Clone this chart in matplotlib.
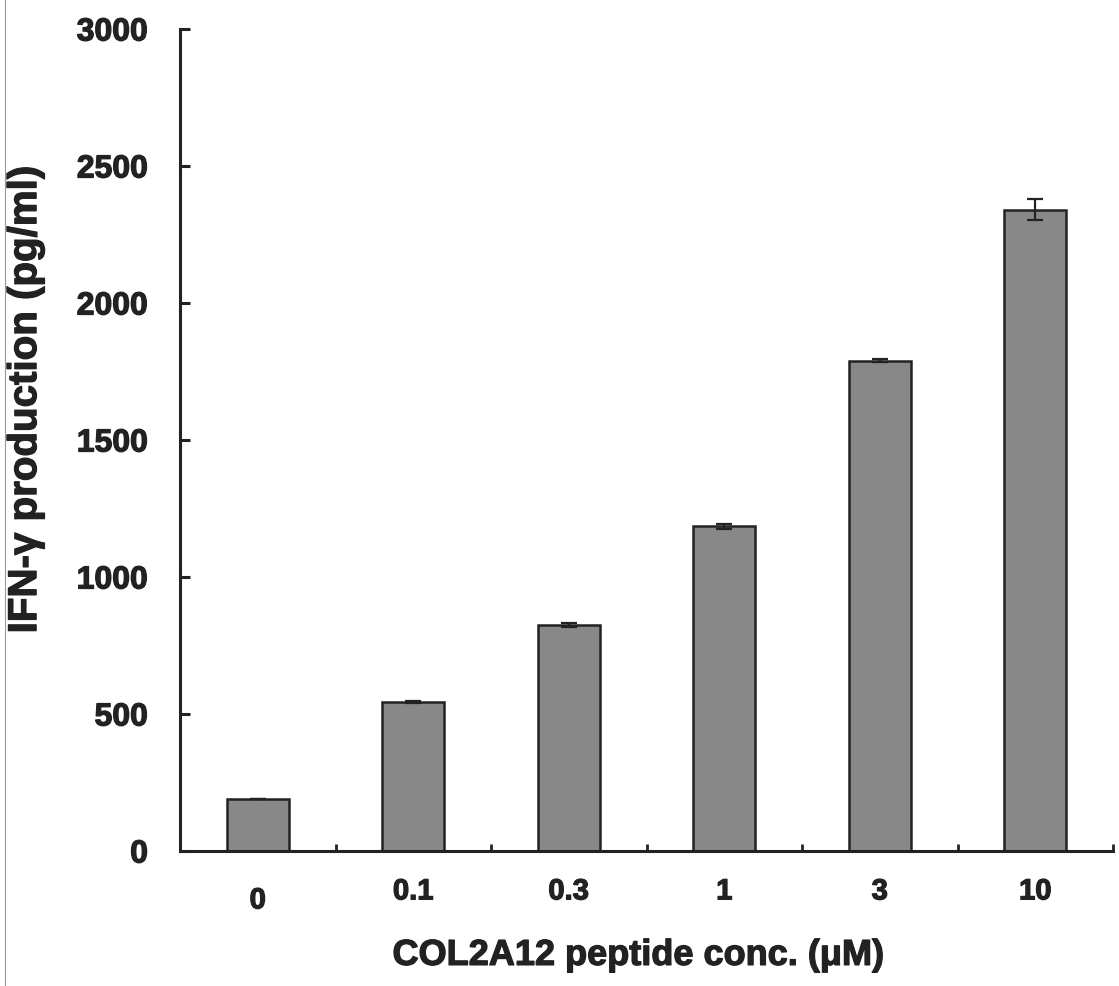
import matplotlib
matplotlib.use("Agg")
import matplotlib.pyplot as plt
import matplotlib.patheffects as pe
from matplotlib.lines import Line2D

# data
conc_labels = ["0", "0.1", "0.3", "1", "3", "10"]
ifn_gamma = [190, 545, 825, 1185, 1790, 2340]
ifn_err = [0, 4, 8, 8, 6, 38]

plt.rcParams['font.family'] = ['Liberation Sans', 'DejaVu Sans']
plt.rcParams['font.weight'] = 'bold'

ink = '#222222'
# the original typeface is heavier than Liberation bold, thicken a bit
heavy = [pe.withStroke(linewidth=0.9, foreground=ink)]

fig = plt.figure(figsize=(11.19, 9.87), dpi=100)
ax = fig.add_axes([180 / 1119, 135 / 987, 933 / 1119, 822 / 987])

pos = list(range(len(conc_labels)))
ax.bar(pos, ifn_gamma, width=0.4, color='#888888', edgecolor=ink, linewidth=1.8,
       yerr=ifn_err, error_kw=dict(ecolor=ink, elinewidth=1.6, capsize=5.5, capthick=1.6),
       zorder=2)

ax.set_xlim(-0.5, len(conc_labels) - 0.5)
ax.set_ylim(0, 3000)
ax.set_yticks(range(0, 3001, 500))

ax.set_xticks(pos)
ax.set_xticklabels(conc_labels)
ax.set_xticks([p + 0.5 for p in pos], minor=True)
ax.tick_params(axis='x', which='major', length=0, pad=19, labelsize=21)
ax.tick_params(axis='x', which='minor', direction='in', length=5, width=2, color=ink)
ax.tick_params(axis='y', direction='in', length=7, width=2.2, color=ink, pad=23, labelsize=23)
for lab in ax.get_xticklabels() + ax.get_yticklabels():
    lab.set_fontweight('bold')
    lab.set_color(ink)
    lab.set_path_effects(heavy)
# the "0" label sits a little lower in the original
ax.get_xticklabels()[0].set_y(-0.011)

for side in ['top', 'right']:
    ax.spines[side].set_visible(False)
for side in ['left', 'bottom']:
    ax.spines[side].set_linewidth(2.2)
    ax.spines[side].set_color(ink)

xl = ax.set_xlabel('COL2A12 peptide conc. (μM)', fontsize=26, fontweight='bold', color=ink, va='center')
yl = ax.set_ylabel('IFN-γ production (pg/ml)', fontsize=29, fontweight='bold', color=ink,
                   va='center', ha='center')
xl.set_path_effects(heavy)
yl.set_path_effects(heavy)
ax.xaxis.set_label_coords(0.491, -0.127)
ax.yaxis.set_label_coords(-0.166, 0.549)

# thin scan border on the left edge
fig.add_artist(Line2D([5 / 1119, 5 / 1119], [0, 1], color='#999999', linewidth=0.8))

fig.savefig('out.png', dpi=100)
